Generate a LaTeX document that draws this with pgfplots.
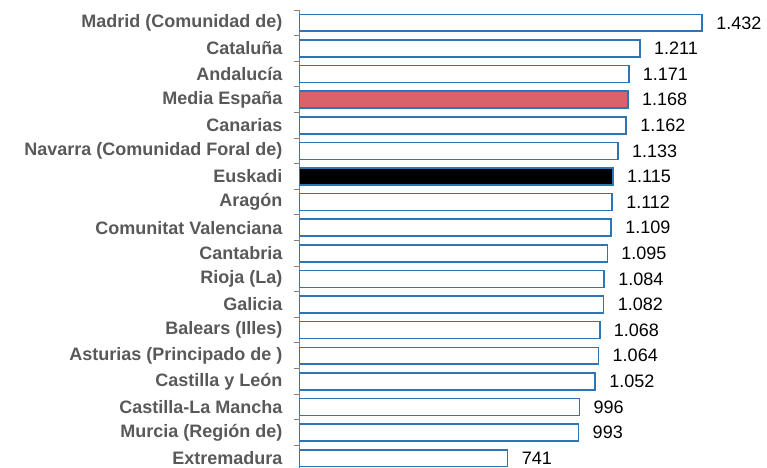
\documentclass[border=0pt]{standalone}
\usepackage{pgfplots}
\pgfplotsset{compat=1.18}
\usepackage{fontspec}
\setmainfont{Liberation Sans}
\definecolor{barblue}{HTML}{2E75B6}
\definecolor{mediared}{HTML}{D9636B}
\definecolor{labgray}{HTML}{595959}
\begin{document}
\begin{tikzpicture}
\useasboundingbox (0,0) rectangle (767bp,468bp);
\begin{axis}[
 at={(299bp,-3bp)}, anchor=south west,
 scale only axis, width=468bp, height=461bp,
 xmin=0, xmax=1662, ymin=-0.5, ymax=17.5, y dir=reverse,
 axis x line=none, axis y line*=left,
 y axis line style={gray, line width=1bp, -},
 xbar, bar width=0.66, bar shift=0pt,
 ytick={0,...,17},
 yticklabels={Madrid (Comunidad de),Cataluña,Andalucía,Media España,Canarias,Navarra (Comunidad Foral de),Euskadi,Aragón,Comunitat Valenciana,Cantabria,Rioja (La),Galicia,Balears (Illes),Asturias (Principado de ),Castilla y León,Castilla-La Mancha,Murcia (Región de),Extremadura},
 major tick length=0pt,
 minor ytick={-0.5,0.5,...,17.5},
 minor tick length=5bp, tick align=outside,
 every tick/.style={gray, line width=1bp},
 yticklabel style={font=\fontsize{18bp}{21bp}\selectfont\bfseries, text=labgray, xshift=-13bp},
 nodes near coords,
 nodes near coords style={font=\fontsize{18bp}{21bp}\selectfont, text=black, xshift=10bp},
 /pgf/number format/1000 sep={.},
 /pgf/number format/assume math mode=true,
]
\addplot[draw=barblue, fill=white, line width=1.6bp] coordinates {
(1432,0) (1211,1) (1171,2) (1162,4) (1133,5) (1112,7) (1109,8) (1095,9) (1084,10) (1082,11) (1068,12) (1064,13) (1052,14) (996,15) (993,16) (741,17)};
\addplot[draw=barblue, fill=mediared, line width=1.6bp] coordinates {(1168,3)};
\addplot[draw=barblue, fill=black, line width=1.6bp] coordinates {(1115,6)};
\end{axis}
\end{tikzpicture}
\end{document}
